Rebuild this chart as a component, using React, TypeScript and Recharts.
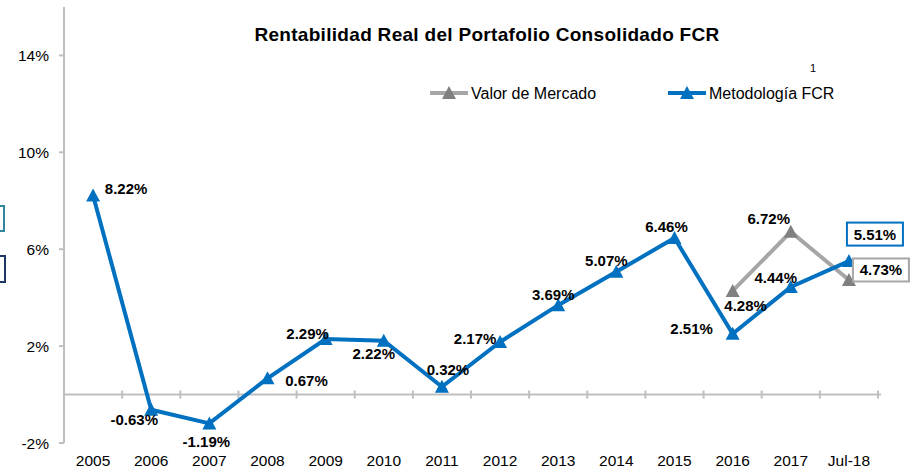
import React from 'react';
import { LineChart, Line, XAxis, YAxis, ReferenceLine } from 'recharts';

const years = ['2005', '2006', '2007', '2008', '2009', '2010', '2011', '2012', '2013', '2014', '2015', '2016', '2017', 'Jul-18'];
const fcrValues = [8.22, -0.63, -1.19, 0.67, 2.29, 2.22, 0.32, 2.17, 3.69, 5.07, 6.46, 2.51, 4.44, 5.51];
const marketValues = [null, null, null, null, null, null, null, null, null, null, null, 4.28, 6.72, 4.73];
const yTicks = [-2, 2, 6, 10, 14];

// label nudges (dx, dy) per point, styling only
const fcrLabelNudge = [[33, -7], [-17, 10], [-3, 18], [39, 2], [-18, -6], [-10, 13], [6, -17], [-25, -3], [-5, -11], [-10, -11], [-8, -12], [-41, -5], [-15, -10], [26, -27]];
const marketLabelNudge: Record<number, number[]> = { 11: [13, 15], 12: [-22, -13], 13: [32, -10] };

const BLUE = '#0070C0';
const GRAY_LINE = '#A6A6A6';
const GRAY_MARK = '#808080';
const AXIS = '#BFBFBF';
const FONT = '"Liberation Sans", Arial, sans-serif';

const data = years.map((year, i) => ({ year, fcr: fcrValues[i], market: marketValues[i] }));

const triangle = (cx: number, cy: number) => `${cx},${cy - 7} ${cx - 7},${cy + 6} ${cx + 7},${cy + 6}`;

const makeDot = (color: string) => (props: any) => {
  const { cx, cy, index } = props;
  if (cx == null || cy == null || props.value == null) return <g key={`d-${index}`} />;
  return <polygon key={`d-${index}`} points={triangle(cx, cy)} fill={color} />;
};

const makeLabel = (nudge: (i: number) => number[] | undefined, boxColor: string, lastIndex: number) => (props: any) => {
  const { x, y, value, index } = props;
  const n = nudge(index);
  if (value == null || !n) return null;
  const tx = x + n[0];
  const ty = y + n[1];
  const txt = `${value.toFixed(2)}%`;
  return (
    <g key={`l-${index}`}>
      {index === lastIndex && (
        <rect x={tx - 28} y={ty - 11.5} width={56} height={23} fill="#fff" stroke={boxColor} strokeWidth={2} />
      )}
      <text x={tx} y={ty} textAnchor="middle" dominantBaseline="central" fontFamily={FONT} fontWeight="bold" fontSize={15} fill="#000">
        {txt}
      </text>
    </g>
  );
};

const ZeroAxis = (props: any) => {
  const { x1, y1, x2 } = props;
  const step = (x2 - x1) / years.length;
  return (
    <g>
      <line x1={x1} y1={y1} x2={x2 + 3} y2={y1} stroke={AXIS} strokeWidth={2} />
      {years.map((_, i) => (
        <line key={i} x1={x1 + step * (i + 1)} x2={x1 + step * (i + 1)} y1={y1 - 4} y2={y1 + 4} stroke={AXIS} strokeWidth={2} />
      ))}
    </g>
  );
};

const Overlay = () => (
  <svg width={913} height={473} style={{ position: 'absolute', left: 0, top: 0, pointerEvents: 'none' }}>
    <text x={487} y={41} textAnchor="middle" fontFamily={FONT} fontWeight="bold" fontSize={19} letterSpacing={0.3} fill="#000">
      Rentabilidad Real del Portafolio Consolidado FCR
    </text>
    <text x={813} y={72} textAnchor="middle" fontFamily={FONT} fontSize={11} fill="#000">1</text>
    <line x1={430} x2={468} y1={93} y2={93} stroke={GRAY_LINE} strokeWidth={4} />
    <polygon points={triangle(449, 93)} fill={GRAY_MARK} />
    <text x={471} y={93} dominantBaseline="central" fontFamily={FONT} fontSize={16} fill="#000">Valor de Mercado</text>
    <line x1={668} x2={706} y1={93} y2={93} stroke={BLUE} strokeWidth={4} />
    <polygon points={triangle(687, 93)} fill={BLUE} />
    <text x={709} y={93} dominantBaseline="central" fontFamily={FONT} fontSize={16} fill="#000">Metodología FCR</text>
    <rect x={-40} y={206} width={44} height={25} fill="#fff" stroke="#31859C" strokeWidth={2} />
    <rect x={-40} y={256} width={45} height={26} fill="#fff" stroke="#1F3864" strokeWidth={2} />
  </svg>
);

export default function App() {
  return (
    <div style={{ position: 'absolute', left: 0, top: 0, width: 913, height: 473, overflow: 'hidden', background: '#fff' }}>
      <LineChart width={913} height={473} data={data} margin={{ top: 7, right: 35, bottom: 0, left: 0 }}>
        <XAxis
          dataKey="year"
          scale="band"
          axisLine={false}
          tickLine={false}
          height={30}
          tickSize={6}
          tickMargin={6}
          tick={{ fontFamily: FONT, fontSize: 15.5, fill: '#000' }}
          interval={0}
        />
        <YAxis
          domain={[-2, 16]}
          ticks={yTicks}
          width={64}
          axisLine={{ stroke: AXIS, strokeWidth: 2 }}
          tickLine={{ stroke: AXIS, strokeWidth: 2 }}
          tickSize={5}
          tickMargin={10}
          tickFormatter={(v: number) => `${v}%`}
          tick={{ fontFamily: FONT, fontSize: 15.5, fill: '#000' }}
          allowDataOverflow
        />
        <ReferenceLine y={0} shape={ZeroAxis} />
        <Line
          dataKey="market"
          stroke={GRAY_LINE}
          strokeWidth={4}
          dot={makeDot(GRAY_MARK)}
          activeDot={false}
          label={makeLabel((i) => marketLabelNudge[i], GRAY_LINE, years.length - 1)}
          isAnimationActive={false}
          connectNulls={false}
        />
        <Line
          dataKey="fcr"
          stroke={BLUE}
          strokeWidth={4}
          dot={makeDot(BLUE)}
          activeDot={false}
          label={makeLabel((i) => fcrLabelNudge[i], BLUE, years.length - 1)}
          isAnimationActive={false}
        />
      </LineChart>
      <Overlay />
    </div>
  );
}
